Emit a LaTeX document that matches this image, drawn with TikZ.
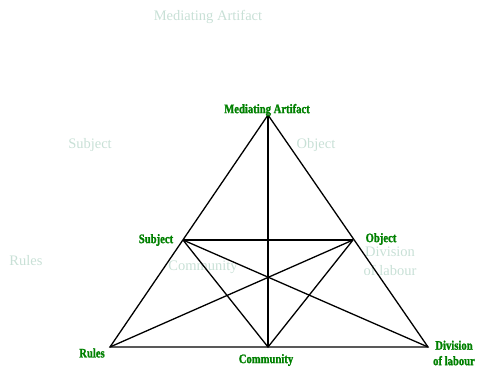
\documentclass[tikz,border=0pt]{standalone}
\usepackage{fontspec}
\setmainfont{Liberation Serif}
\newfontfamily\narrowserif{Liberation Serif}[FakeStretch=0.82, FakeBold=1.5]
\usepackage{xcolor}
\usetikzlibrary{positioning}
\definecolor{lblgreen}{RGB}{0, 128, 0}
\definecolor{ghost}{RGB}{200, 224, 214}

\begin{document}
\begin{tikzpicture}[
    x=1pt, y=-1pt,
    vert/.style={font=\narrowserif\bfseries\fontsize{13}{15.5}\selectfont,
      text=lblgreen, inner sep=0pt, align=center},
    faded/.style={font=\fontsize{14.5}{19}\selectfont, text=ghost,
      inner sep=0pt, align=center},
    edge/.style={line width=1.3pt, black}
  ]
  \useasboundingbox (0,0) rectangle (481,379);
  % corners and side points of the triangle
  \coordinate (artifact) at (268,115);
  \coordinate (rules) at (110,347);
  \coordinate (division) at (428,347);
  \coordinate (subject) at (183,240);
  \coordinate (object) at (353,240);
  \coordinate (community) at (268,347);
  % faded labels
  \node[faded] (gartifact) at (208,17) {Mediating Artifact};
  \node[faded] (gsubject) at (90,145) {Subject};
  \node[faded] (gobject) at (316,145) {Object};
  \node[faded] (grules) at (26,261) {Rules};
  \node[faded] (gcommunity) at (203,267) {Community};
  \node[faded] (gdivision) at (390,261) {Division\\of labour};
  % lines
  \draw[edge] (artifact) -- (rules) -- (division) -- cycle;
  \draw[edge] (artifact) -- (community);
  \draw[edge] (subject) -- (object);
  \draw[edge] (subject) -- (community) -- (object);
  \draw[edge] (rules) -- (object);
  \draw[edge] (division) -- (subject);
  % vertex labels
  \node[vert] (lartifact) at (267,110) {Mediating Artifact};
  \node[vert] (lsubject) at (156,240) {Subject};
  \node[vert] (lobject) at (381,239) {Object};
  \node[vert] (lrules) at (92,353) {Rules};
  \node[vert] (lcommunity) at (266,360) {Community};
  \node[vert] (ldivision) at (454,353) {Division\\of labour};
\end{tikzpicture}
\end{document}
